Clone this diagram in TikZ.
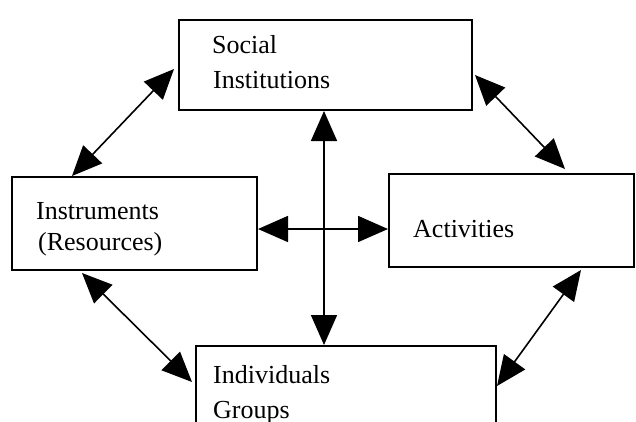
\documentclass[tikz,border=0pt]{standalone}
\usepackage{fontspec}
\setmainfont{Liberation Serif}
\usetikzlibrary{arrows.meta}
\begin{document}
\begin{tikzpicture}[x=1pt,y=-1pt,
  box/.style={draw=black, line width=2pt, rectangle, inner sep=0pt, fill=white},
  lbl/.style={anchor=base west, inner sep=0pt, font=\fontsize{26pt}{30pt}\selectfont},
  link/.style={line width=1.6pt, {Triangle[length=30pt,width=26pt]}-{Triangle[length=30pt,width=26pt]}}]
\useasboundingbox (0,0) rectangle (636,421);
\clip (0,0) rectangle (636,421);
% boxes
\node[box, minimum width=293pt, minimum height=90pt] (top) at (325.5,65) {};
\node[box, minimum width=245pt, minimum height=93pt] (inst) at (134.5,223.5) {};
\node[box, minimum width=245pt, minimum height=93pt] (act) at (511.5,220.5) {};
\node[box, minimum width=300pt, minimum height=100pt] (bot) at (346,396) {};
% texts
\node[lbl] (t1) at (212,53) {Social};
\node[lbl] (t2) at (213,88) {Institutions};
\node[lbl] (i1) at (36,219) {Instruments};
\node[lbl] (i2) at (38,250) {(Resources)};
\node[lbl] (a1) at (413,237) {Activities};
\node[lbl] (b1) at (213,383) {Individuals};
\node[lbl] (b2) at (213,418) {Groups};
% helper coordinates
\coordinate (h) at (0,229);
\coordinate (v) at (324,0);
% connectors
\draw[link] (inst.east |- h) -- (act.west |- h);
\draw[link] (top.south -| v) -- (bot.north -| v);
\draw[link] ([shift={(-4,4)}]top.west) -- ([shift={(61,0)}]inst.north west);
\draw[link] ([shift={(2,10)}]top.east) -- ([shift={(177,-4)}]act.north west);
\draw[link] ([shift={(71,2)}]inst.south west) -- ([shift={(-3,37)}]bot.north west);
\draw[link] ([shift={(193,2)}]act.south west) -- ([shift={(0,41)}]bot.north east);
\end{tikzpicture}
\end{document}
